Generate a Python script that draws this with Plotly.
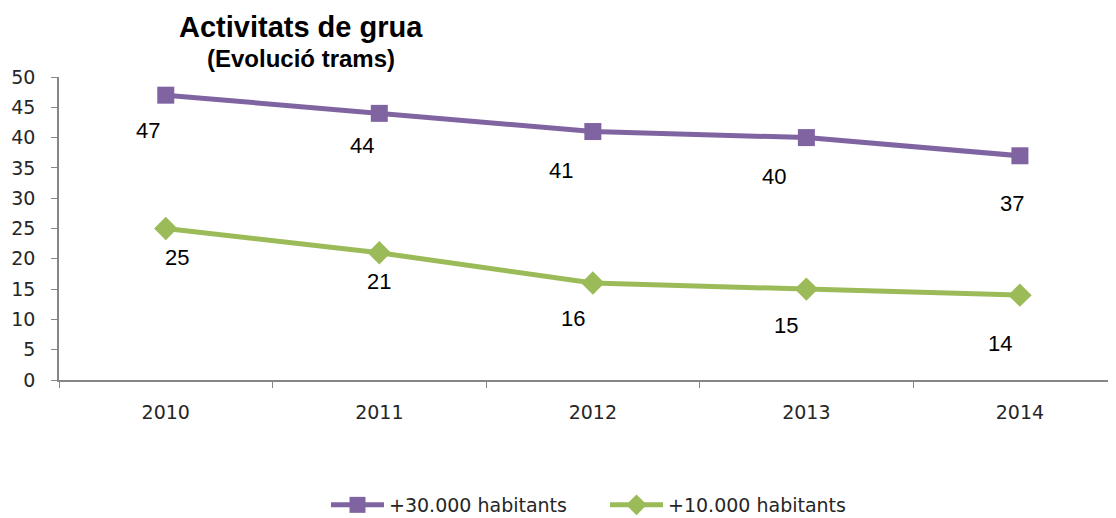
import plotly.graph_objects as go

years = ["2010", "2011", "2012", "2013", "2014"]
s30 = [47, 44, 41, 40, 37]
s10 = [25, 21, 16, 15, 14]
name30 = "+30.000 habitants"
name10 = "+10.000 habitants"

# label offsets (px) relative to each point
dx30 = [-18, -17, -32, -32, -8]
dy30 = [-35, -32, -39, -39, -48]
dx10 = [11, 0, -20, -20, -20]
dy10 = [-29, -29, -35, -36, -48]

PURPLE = "#8064A2"
GREEN = "#9BBB59"
AXIS = "#868686"
TICKFONT = dict(family="DejaVu Sans", size=19, color="#262626")

# page body adds an 8px offset; margins compensate
OFF = 8
W, H = 1116, 518
L, T = 59 - OFF, 77 - OFF
PLOT_BOTTOM = 380 - OFF
R = OFF

fig = go.Figure()
fig.add_trace(go.Scatter(x=years, y=s30, name=name30, mode="lines+markers",
                         line=dict(color=PURPLE, width=5),
                         marker=dict(symbol="square", size=17, color=PURPLE)))
fig.add_trace(go.Scatter(x=years, y=s10, name=name10, mode="lines+markers",
                         line=dict(color=GREEN, width=5),
                         marker=dict(symbol="diamond", size=18, color=GREEN)))

ann = []
for ys, dxs, dys in ((s30, dx30, dy30), (s10, dx10, dy10)):
    for i, (y, dx, dy) in enumerate(zip(ys, dxs, dys)):
        ann.append(dict(x=i, y=y, text=str(y), showarrow=False, xshift=dx, yshift=dy,
                        xanchor="center", yanchor="middle",
                        font=dict(family="Liberation Sans, Arial", size=22, color="#000000")))

plot_w = W - L - R
plot_h = PLOT_BOTTOM - T
tx = (301 - OFF - L) / plot_w
ann.append(dict(xref="paper", yref="paper", x=tx, y=1.0, yshift=50, xanchor="center", yanchor="middle",
                text="<b>Activitats de grua</b>", showarrow=False,
                font=dict(family="Liberation Sans, Arial", size=29, color="#000000")))
ann.append(dict(xref="paper", yref="paper", x=tx, y=1.0, yshift=19, xanchor="center", yanchor="middle",
                text="<b>(Evolució trams)</b>", showarrow=False,
                font=dict(family="Liberation Sans, Arial", size=24, color="#000000")))

fig.update_layout(
    width=W, height=H,
    margin=dict(l=L, r=R, t=T, b=H - PLOT_BOTTOM, autoexpand=False),
    plot_bgcolor="white", paper_bgcolor="white",
    showlegend=True,
    legend=dict(orientation="h", x=(326 - OFF - L) / plot_w, xanchor="left",
                y=(PLOT_BOTTOM - (505 - OFF)) / plot_h, yanchor="middle",
                font=dict(family="DejaVu Sans", size=19, color="#262626"),
                itemwidth=53, entrywidth=211, entrywidthmode="pixels", tracegroupgap=0),
    annotations=ann,
    xaxis=dict(type="category", range=[-0.5, 4.45], showline=True, linecolor=AXIS, linewidth=1.5,
               ticks="outside", tickson="boundaries", ticklen=6, tickcolor=AXIS,
               showgrid=False, tickfont=TICKFONT, ticklabelstandoff=14, zeroline=False,
               automargin=False),
    yaxis=dict(range=[0, 50], dtick=5, showline=True, linecolor=AXIS, linewidth=1.5,
               ticks="outside", ticklen=6, tickcolor=AXIS, showgrid=False,
               tickfont=TICKFONT, ticklabelstandoff=12, zeroline=False, automargin=False),
)

fig.write_html("out.html")
